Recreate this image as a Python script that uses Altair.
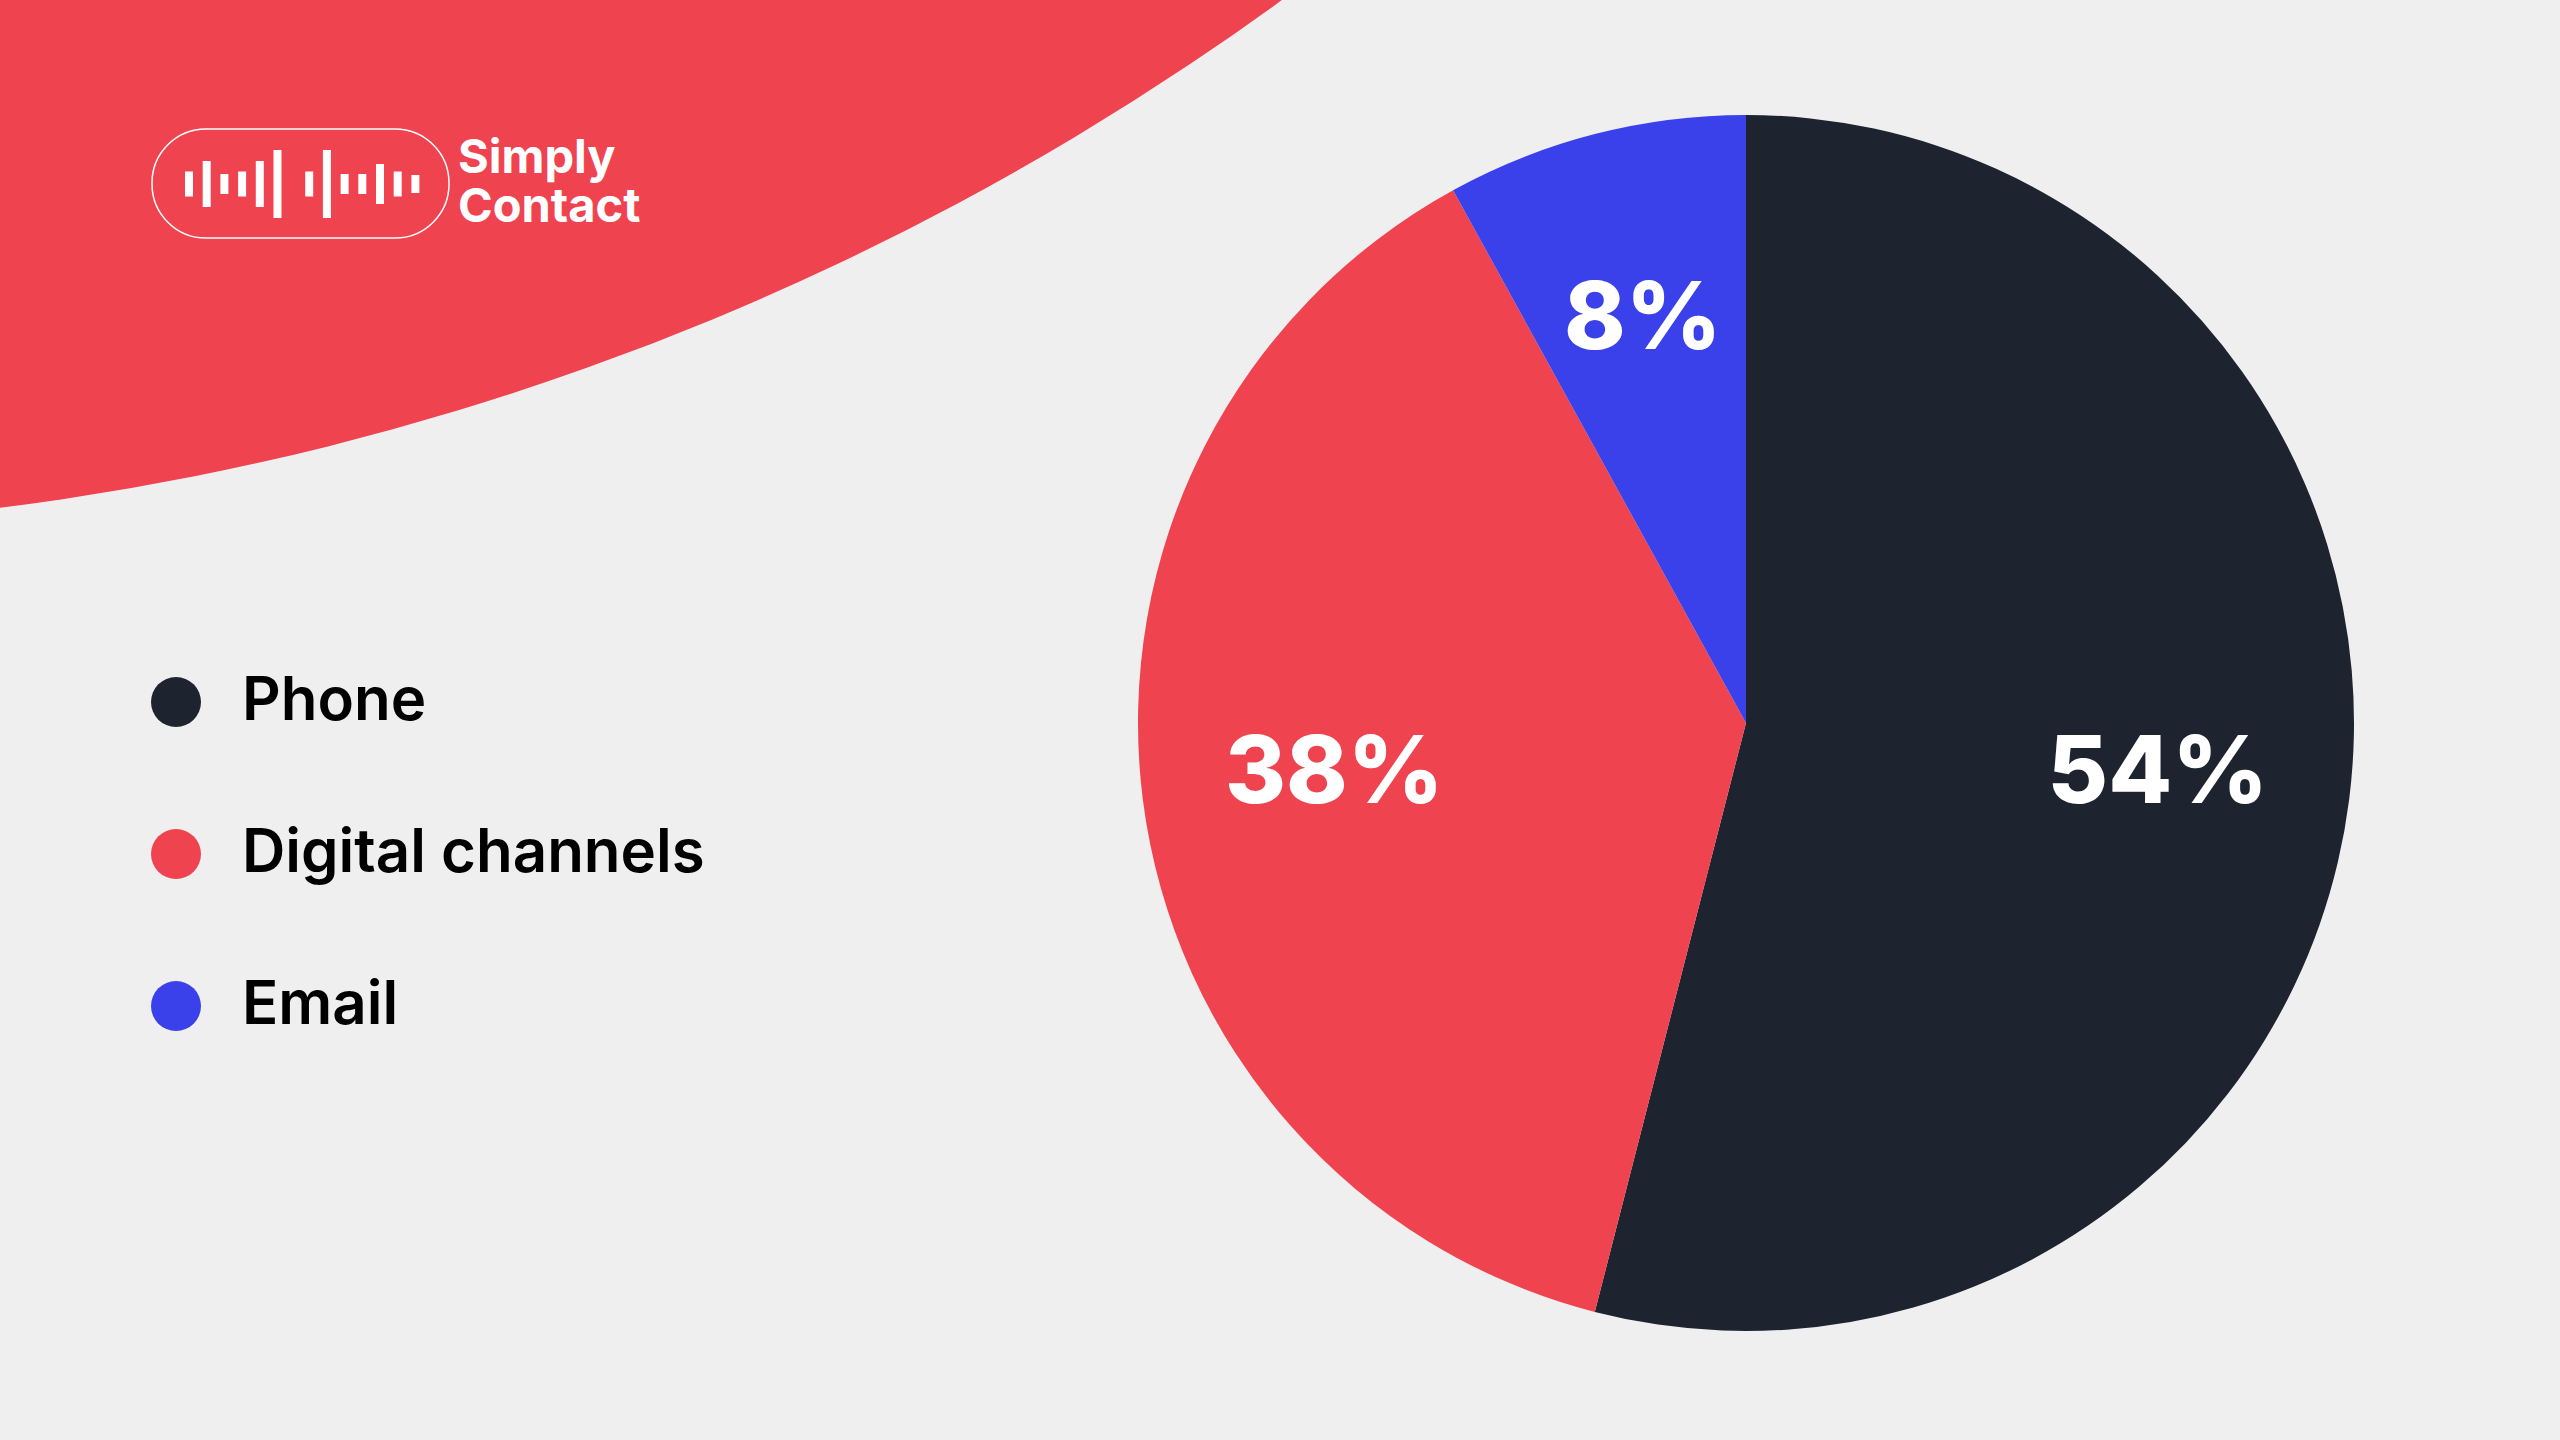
import math
import altair as alt
import pandas as pd

# ---- data ----
categories = ["Phone", "Digital channels", "Email"]
shares = [54, 38, 8]
labels = ["54%", "38%", "8%"]
colors = ["#1E2330", "#EF4350", "#3A40EA"]

brand_lines = ["Simply", "Contact"]
logo_bar_heights = [25, 46, 20, 25, 46, 68, 25, 68, 20, 20, 40, 25, 18]

RED = "#EF4350"
BG = "#EFEFEF"

pie_df = pd.DataFrame({
    "category": categories,
    "share": shares,
    "label": labels,
    "idx": list(range(len(categories))),
})

# logo bars (decorative)
bar_rows = []
for i, h in enumerate(logo_bar_heights):
    cx = 189 + 17.7 * i + (14 if i >= 6 else 0)
    bar_rows.append({"bx0": cx - 4, "bx1": cx + 4, "by0": 184 - h / 2, "by1": 184 + h / 2})
bars_df = pd.DataFrame(bar_rows)

text_df = pd.DataFrame({"line": ["\n".join(brand_lines)]})
one = pd.DataFrame({"k": [0]})

# big decorative red circle in the top-left
bg_circle = alt.Chart(one).mark_arc(
    theta=0, theta2=2 * math.pi, outerRadius=2757, color=RED
).encode(x=alt.value(-342), y=alt.value(-2228))

pill = alt.Chart(one).mark_rect(
    cornerRadius=54, fillOpacity=0, stroke="white", strokeWidth=1.5
).encode(x=alt.value(152), x2=alt.value(449), y=alt.value(129), y2=alt.value(238))

bars = alt.Chart(bars_df).mark_rect(color="white").encode(
    x=alt.X("bx0:Q", scale=None, axis=None),
    x2="bx1:Q",
    y=alt.Y("by0:Q", scale=None, axis=None),
    y2="by1:Q",
)

logo_text = alt.Chart(text_df).mark_text(
    align="left", baseline="alphabetic", font="Inter", fontSize=47, fontWeight=700,
    color="white", lineBreak="\n", lineHeight=49,
).encode(x=alt.value(458), y=alt.value(173), text="line:N")

legend = alt.Legend(
    title=None, orient="none", legendX=146, legendY=672,
    symbolType="circle", symbolSize=2500, symbolStrokeWidth=0, symbolOpacity=1,
    labelFont="Inter", labelFontSize=60, labelFontWeight=600, labelColor="#000000",
    labelOffset=36, rowPadding=92, padding=0, labelLimit=0,
)

theta = alt.Theta("share:Q", stack=True)
order = alt.Order("idx:Q", sort="ascending")

arcs = alt.Chart(pie_df).mark_arc(outerRadius=608).encode(
    theta=theta,
    order=order,
    color=alt.Color("category:N", scale=alt.Scale(domain=categories, range=colors), legend=legend),
    x=alt.value(1746),
    y=alt.value(723),
)

pie_labels = alt.Chart(pie_df).mark_text(
    radius=415, font="Inter", fontSize=93, fontWeight=800, color="white",
    align="center", baseline="middle"
).encode(
    theta=theta,
    order=order,
    detail="category:N",
    text="label:N",
    x=alt.value(1746),
    y=alt.value(723),
)

chart = alt.layer(bg_circle, pill, bars, logo_text, arcs, pie_labels).properties(
    width=2560, height=1440, background=BG, padding=0,
    autosize=alt.AutoSizeParams(type="none"),
).configure_view(stroke=None)

chart.save("out.html", embed_options={"renderer": "svg", "actions": False})
